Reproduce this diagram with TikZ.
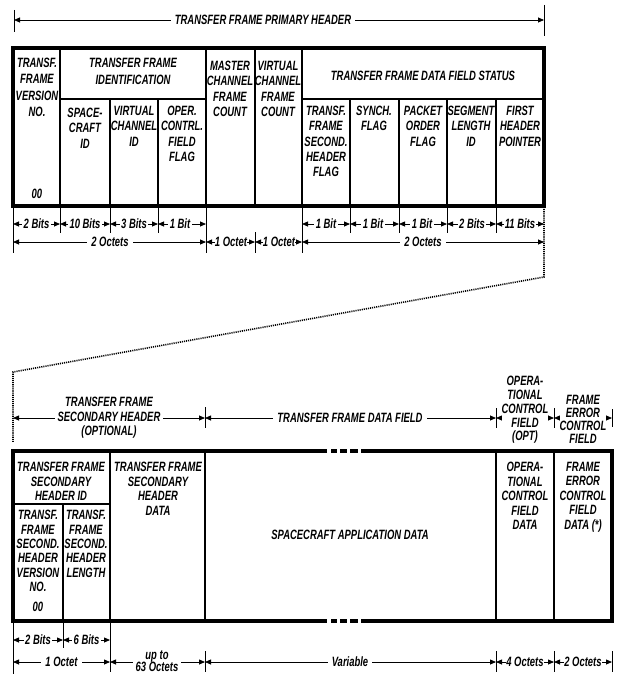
\documentclass[tikz,border=0pt]{standalone}
\usepackage{fontspec}
\setmainfont{Liberation Sans}[FakeStretch=0.7]
\usetikzlibrary{arrows.meta}
\begin{document}
\begin{tikzpicture}[x=1pt,y=-1pt,
  txt/.style={font=\bfseries\itshape\fontsize{13.5}{15.3}\selectfont, align=center, inner sep=0pt, anchor=north},
  txtl/.style={font=\bfseries\itshape\fontsize{13.5}{14.5}\selectfont, align=center, inner sep=0pt, anchor=north},
  outerline/.style={line width=3.4pt, line join=miter, line cap=butt},
  innerline/.style={line width=1.5pt},
  rowline/.style={line width=2pt},
  dimline/.style={line width=0.8pt, {Triangle[length=6pt,width=5pt]}-{Triangle[length=6pt,width=5pt]}},
  tickline/.style={line width=0.7pt},
  lbl/.style={font=\bfseries\itshape\fontsize{13.5}{12.5}\selectfont, fill=white, inner sep=1.5pt, align=center},
  dotline/.style={line width=1.6pt, dash pattern=on 1.1pt off 1pt}
]
\useasboundingbox (0,0) rectangle (619,674);

% ---------- top header arrow ----------
\draw[tickline] (14,10) -- (14,32);
\draw[tickline] (544,5) -- (544,36);
\draw[dimline] (14,20) -- (544,20);
\node[lbl, inner sep=4pt] (ph) at (263,20) {TRANSFER FRAME PRIMARY HEADER};

% ---------- primary header box ----------
\draw[innerline] (60,48) -- (60,206);
\draw[innerline] (206,48) -- (206,206);
\draw[innerline] (255,48) -- (255,206);
\draw[innerline] (302,48) -- (302,206);
\draw[rowline] (60,99) -- (206,99);
\draw[rowline] (302,99) -- (544,99);
\draw[innerline] (110,99) -- (110,206);
\draw[innerline] (158,99) -- (158,206);
\draw[innerline] (350,99) -- (350,206);
\draw[innerline] (399,99) -- (399,206);
\draw[innerline] (447,99) -- (447,206);
\draw[innerline] (496,99) -- (496,206);
\draw[outerline] (13,48) rectangle (544,206);

\node[txt, font=\bfseries\itshape\fontsize{13.5}{16.5}\selectfont] (ver) at (37,57.5) {TRANSF.\\FRAME\\VERSION\\NO.};
\node[txt, anchor=center] (ver00) at (37,194) {00};
\node[txt, font=\bfseries\itshape\fontsize{13.5}{17}\selectfont] (tfid) at (133,57.5) {TRANSFER FRAME\\IDENTIFICATION};
\node[txt] (scid) at (85,108) {SPACE-\\CRAFT\\ID};
\node[txt] (vcid) at (134,106) {VIRTUAL\\CHANNEL\\ID};
\node[txt] (ocff) at (182,106) {OPER.\\CONTRL.\\FIELD\\FLAG};
\node[txt] (mcfc) at (230,61) {MASTER\\CHANNEL\\FRAME\\COUNT};
\node[txt] (vcfc) at (278,61) {VIRTUAL\\CHANNEL\\FRAME\\COUNT};
\node[txt, anchor=center] (dfs) at (423,76) {TRANSFER FRAME DATA FIELD STATUS};
\node[txt] (shf) at (326,106) {TRANSF.\\FRAME\\SECOND.\\HEADER\\FLAG};
\node[txt] (sync) at (374,106) {SYNCH.\\FLAG};
\node[txt] (pof) at (423,106) {PACKET\\ORDER\\FLAG};
\node[txt] (slid) at (471,106) {SEGMENT\\LENGTH\\ID};
\node[txt] (fhp) at (520,106) {FIRST\\HEADER\\POINTER};

% ---------- primary dimensions ----------
\foreach \x in {60,110,158,350,399,447,496} \draw[tickline] (\x,206) -- (\x,233);
\foreach \x in {13,206,302} \draw[tickline] (\x,206) -- (\x,253);
\draw[tickline] (255,232) -- (255,253);

\draw[dimline] (13,224) -- (60,224);   \node[lbl] (d1) at (36.5,224) {2 Bits};
\draw[dimline] (60,224) -- (110,224);  \node[lbl] (d2) at (85,224) {10 Bits};
\draw[dimline] (110,224) -- (158,224); \node[lbl] (d3) at (134,224) {3 Bits};
\draw[dimline] (158,224) -- (206,224); \node[lbl] (d4) at (180,224) {1 Bit};
\draw[dimline] (302,224) -- (350,224); \node[lbl] (d5) at (326,224) {1 Bit};
\draw[dimline] (350,224) -- (399,224); \node[lbl] (d6) at (373,224) {1 Bit};
\draw[dimline] (399,224) -- (447,224); \node[lbl] (d7) at (422,224) {1 Bit};
\draw[dimline] (447,224) -- (496,224); \node[lbl] (d8) at (472,224) {2 Bits};
\draw[dimline] (496,224) -- (544,224); \node[lbl, inner sep=0.5pt] (d9) at (520,224) {11 Bits};

\draw[dimline] (13,242) -- (206,242);  \node[lbl, inner sep=4pt] (e1) at (110,242) {2 Octets};
\draw[dimline] (206,242) -- (255,242); \node[lbl, inner sep=0pt] (e2) at (231,242) {1 Octet};
\draw[dimline] (255,242) -- (302,242); \node[lbl, inner sep=0pt] (e3) at (279,242) {1 Octet};
\draw[dimline] (302,242) -- (544,242); \node[lbl, inner sep=4pt] (e4) at (423,242) {2 Octets};

% ---------- dotted connector ----------
\coordinate (dA) at (544,207);
\coordinate (dB) at (544,277);
\coordinate (dC) at (13,372);
\coordinate (dD) at (13,442);
\draw[dotline] (dA) -- (dB) -- (dC) -- (dD);

% ---------- lower labels above box ----------
\draw[tickline] (205,407) -- (205,428);
\draw[tickline] (496,408) -- (496,428);
\draw[tickline] (554,408) -- (554,428);
\draw[tickline] (612,409) -- (612,427);
\draw[dimline] (13,418) -- (205,418);
\draw[dimline] (205,418) -- (496,418);
\draw[dimline] (496,418) -- (554,418);
\draw[dimline] (554,418) -- (612,418);
\node[lbl, inner sep=3pt, font=\bfseries\itshape\fontsize{13.5}{14.5}\selectfont] (sechl) at (109,418) {TRANSFER FRAME\\SECONDARY HEADER\\(OPTIONAL)};
\node[lbl, inner sep=4pt] (tfdfl) at (350,418) {TRANSFER FRAME DATA FIELD};
\node[lbl, font=\bfseries\itshape\fontsize{13.5}{13.8}\selectfont, inner sep=0pt] (ocfl) at (525,410) {OPERA-\\TIONAL\\CONTROL\\FIELD\\(OPT)};
\node[lbl, font=\bfseries\itshape\fontsize{13.5}{13}\selectfont, inner sep=0pt] (fecfl) at (583,419) {FRAME\\ERROR\\CONTROL\\FIELD};

% ---------- lower box ----------
\draw[innerline] (110,451) -- (110,621);
\draw[innerline] (205,451) -- (205,621);
\draw[innerline] (496,451) -- (496,621);
\draw[innerline] (554,451) -- (554,621);
\draw[rowline] (13,504) -- (110,504);
\draw[innerline] (63,504) -- (63,621);
\draw[outerline] (327,451) -- (13,451) -- (13,621) -- (327,621);
\draw[outerline] (361,451) -- (612,451) -- (612,621) -- (361,621);
\foreach \y in {451,621} {
  \draw[outerline] (331,\y) -- (337,\y);
  \draw[outerline] (340,\y) -- (347,\y);
  \draw[outerline] (350,\y) -- (358,\y);
}

\node[txtl] (shid) at (61,462) {TRANSFER FRAME\\SECONDARY\\HEADER ID};
\node[txtl, font=\bfseries\itshape\fontsize{13.5}{14.4}\selectfont] (shvn) at (38,510) {TRANSF.\\FRAME\\SECOND.\\HEADER\\VERSION\\NO.};
\node[txtl, anchor=center] (shvn00) at (38,607) {00};
\node[txtl, font=\bfseries\itshape\fontsize{13.5}{14.4}\selectfont] (shl) at (86,510) {TRANSF.\\FRAME\\SECOND.\\HEADER\\LENGTH};
\node[txtl] (shdata) at (158,462) {TRANSFER FRAME\\SECONDARY\\HEADER\\DATA};
\node[txtl, anchor=center] (sad) at (350,535) {SPACECRAFT APPLICATION DATA};
\node[txtl] (ocfd) at (525,462) {OPERA-\\TIONAL\\CONTROL\\FIELD\\DATA};
\node[txtl] (fecfd) at (583,462) {FRAME\\ERROR\\CONTROL\\FIELD\\DATA (*)};

% ---------- lower dimensions ----------
\draw[tickline] (13,621) -- (13,674);
\draw[tickline] (63,621) -- (63,648);
\draw[tickline] (110,621) -- (110,672);
\foreach \x in {205,496,554,612} \draw[tickline] (\x,651) -- (\x,672);

\draw[dimline] (13,640) -- (63,640);   \node[lbl] (f1) at (38,640) {2 Bits};
\draw[dimline] (63,640) -- (110,640);  \node[lbl] (f2) at (86.5,640) {6 Bits};

\draw[dimline] (13,662) -- (110,662);  \node[lbl, inner sep=4pt] (g1) at (61.5,662) {1 Octet};
\draw[dimline] (110,662) -- (205,662); \node[lbl, inner sep=3pt, font=\bfseries\itshape\fontsize{13.5}{12.5}\selectfont] (g2) at (157,661) {up to\\63 Octets};
\draw[dimline] (205,662) -- (496,662); \node[lbl, inner sep=4pt] (g3) at (350,662) {Variable};
\draw[dimline] (496,662) -- (554,662); \node[lbl, inner sep=0pt] (g4) at (525,662) {4 Octets};
\draw[dimline] (554,662) -- (612,662); \node[lbl, inner sep=0pt] (g5) at (583,662) {2 Octets};
\end{tikzpicture}
\end{document}
